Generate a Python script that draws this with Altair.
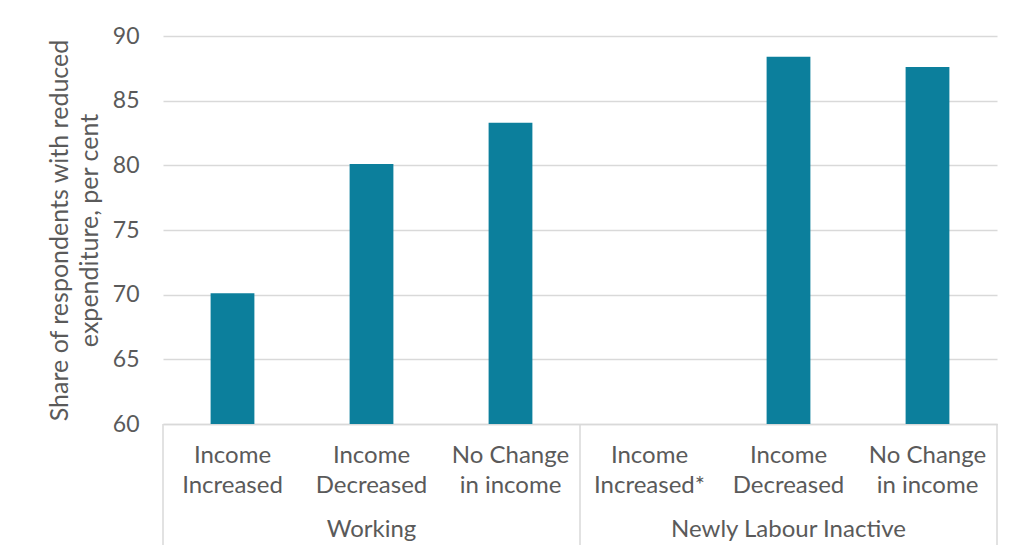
import altair as alt
import pandas as pd

keys = ["W1", "W2", "W3", "N1", "N2", "N3"]
cat_labels = [
    ["Income", "Increased"],
    ["Income", "Decreased"],
    ["No Change", "in income"],
    ["Income", "Increased*"],
    ["Income", "Decreased"],
    ["No Change", "in income"],
]
values = [70.1, 80.1, 83.3, None, 88.4, 87.6]
groups = ["Working", "Newly Labour Inactive"]
group_mid_keys = ["W2", "N2"]

W, H = 834, 388
FONT = "Lato"
GREY = "#5a5a5a"
LINE = "#d9d9d9"
TEAL = "#0c7f9c"

df = pd.DataFrame({"key": keys, "value": values})
df_bars = df.dropna()
gdf = pd.DataFrame({"key": group_mid_keys, "group": groups})
sep = pd.DataFrame({"key": ["W1", "N1"]})
sep_end = pd.DataFrame({"key": ["N3"]})

label_map = "{" + ",".join(
    f"'{k}': ['{a}', '{b}']" for k, (a, b) in zip(keys, cat_labels)
) + "}"

xscale = alt.Scale(domain=keys, paddingInner=0, paddingOuter=0)
x_axis = alt.Axis(
    title=None, labelAngle=0, domain=True, domainColor=LINE, domainWidth=1.5,
    ticks=False, labelFont=FONT, labelFontSize=24, labelColor=GREY,
    labelPadding=19, labelLineHeight=30,
    labelExpr=f"{label_map}[datum.value]",
)
yscale = alt.Scale(domain=[60, 90])
y_axis = alt.Axis(
    title=["Share of respondents with reduced", "expenditure, per cent"],
    values=[60, 65, 70, 75, 80, 85, 90], domain=False, ticks=False,
    grid=True, gridColor=LINE, gridWidth=1.5,
    labelFont=FONT, labelFontSize=23, labelColor=GREY, labelPadding=24,
    titleFont=FONT, titleFontSize=25, titleColor=GREY, titleFontWeight="normal",
    titlePadding=10, titleLineHeight=30,
)

bars = alt.Chart(df_bars).mark_bar(
    color=TEAL, width=alt.RelativeBandSize(0.315)
).encode(
    x=alt.X("key:N", scale=xscale, axis=x_axis, sort=keys),
    y=alt.Y("value:Q", scale=yscale, axis=y_axis),
    y2=alt.datum(60),
)

group_text = alt.Chart(gdf).mark_text(
    font=FONT, fontSize=24, color=GREY, baseline="middle"
).encode(
    x=alt.X("key:N", scale=xscale, sort=keys),
    y=alt.value(H + 106),
    text="group:N",
)

rules_left = alt.Chart(sep).mark_rule(color=LINE, strokeWidth=1.5).encode(
    x=alt.X("key:N", scale=xscale, sort=keys, bandPosition=0),
    y=alt.value(H),
    y2=alt.value(H + 121),
)
rules_right = alt.Chart(sep_end).mark_rule(color=LINE, strokeWidth=1.5).encode(
    x=alt.X("key:N", scale=xscale, sort=keys, bandPosition=1),
    y=alt.value(H),
    y2=alt.value(H + 121),
)

chart = alt.layer(bars, rules_left, rules_right, group_text).properties(
    width=W, height=H,
    background="white",
    autosize=alt.AutoSizeParams(type="none"),
    padding={"left": 155, "top": 28, "right": 10, "bottom": 125},
).configure_view(stroke="transparent", strokeWidth=0)

chart.save("out.html", embed_options={"renderer": "svg", "actions": False})
